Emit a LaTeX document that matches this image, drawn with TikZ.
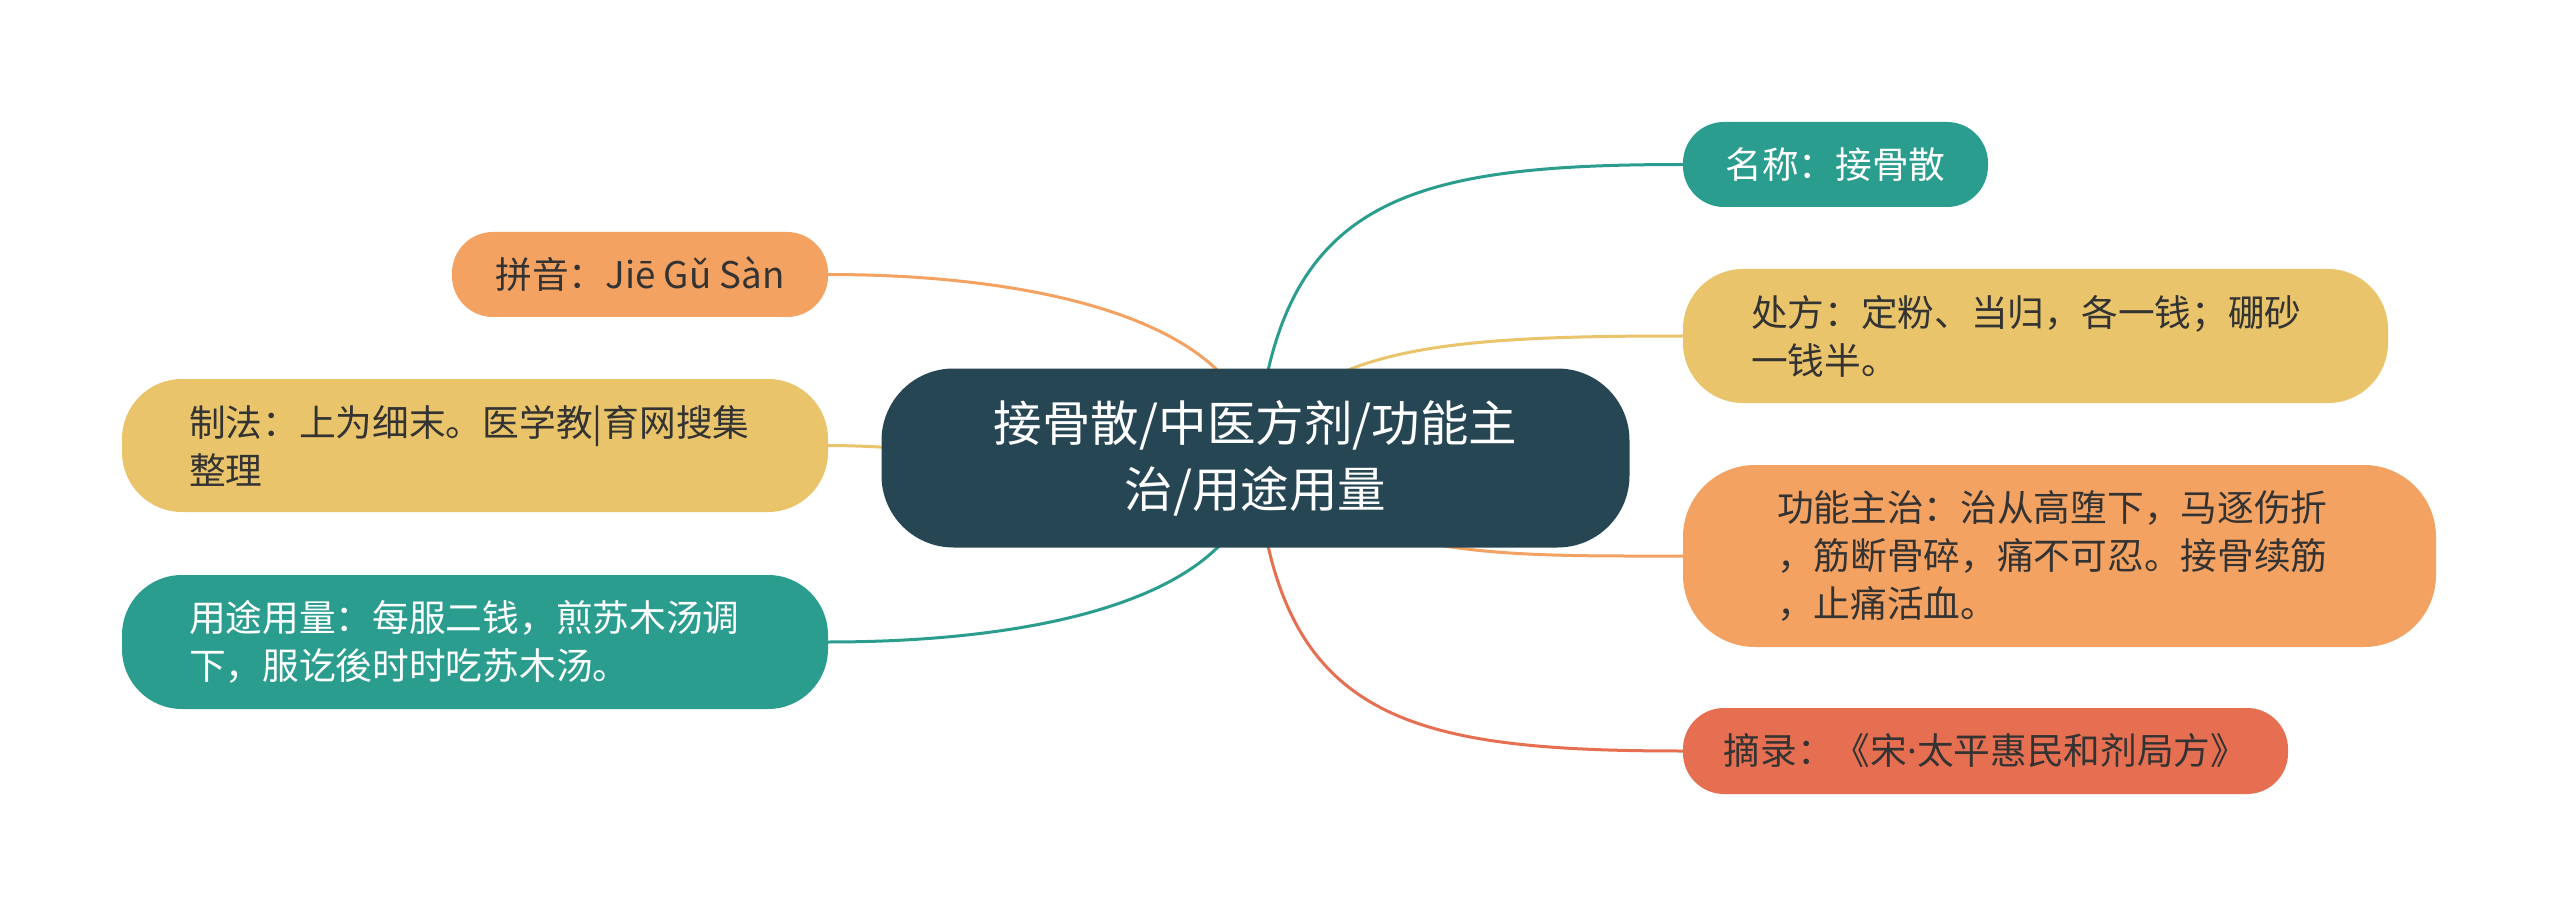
\documentclass[tikz,border=0pt]{standalone}
\usepackage{fontspec}
\setmainfont{Noto Sans CJK SC}
\newfontfamily\latinfont{Noto Sans}
\pgfdeclarelayer{bg}
\pgfsetlayers{bg,main}
\definecolor{cdark}{HTML}{264653}
\definecolor{cteal}{HTML}{2A9D8F}
\definecolor{cyellow}{HTML}{E9C46A}
\definecolor{corange}{HTML}{F4A261}
\definecolor{cred}{HTML}{E76F51}
\definecolor{ctext}{HTML}{333333}
\tikzset{
  box/.style={rectangle, inner ysep=0pt, outer sep=0pt,
    font=\fontsize{36.7}{48}\selectfont},
  onebox/.style={box, rounded corners=41pt, inner xsep=0pt, align=center},
  leftbox/.style={box, rounded corners=60pt, align=left},
  rootbox/.style={rectangle, rounded corners=72pt, fill=cdark, text=white,
    minimum width=748pt, minimum height=179pt, align=center, inner sep=0pt,
    font=\fontsize{48.5}{66}\selectfont},
  conn/.style={line width=3pt}
}
\begin{document}
\begin{tikzpicture}[x=1pt,y=-1pt]
\useasboundingbox (0,0) rectangle (2560,917);

\node[rootbox] (c) at (1255.5,458) {接骨散/中医方剂/功能主\\治/用途用量};

\node[onebox, fill=cteal, text=white, minimum width=305pt, minimum height=85pt]
  (n1) at (1835.5,164.5) {名称：接骨散};
\node[leftbox, fill=cyellow, text=ctext, inner xsep=68pt, text width=569pt, minimum height=134pt]
  (n2) at (2035.5,336) {处方：定粉、当归，各一钱；硼砂\\一钱半。};
\node[leftbox, rounded corners=72pt, fill=corange, text=ctext, inner xsep=94pt, text width=565pt, minimum height=182pt]
  (n3) at (2059.5,556) {功能主治：治从高堕下，马逐伤折\\，筋断骨碎，痛不可忍。接骨续筋\\，止痛活血。};
\node[onebox, fill=cred, text=ctext, minimum width=605pt, minimum height=86pt]
  (n4) at (1985.5,751) {摘录：《宋{\latinfont ·}太平惠民和剂局方》};

\node[onebox, fill=corange, text=ctext, minimum width=376pt, minimum height=85pt]
  (m1) at (640,274.5) {拼音：Jiē Gǔ Sàn};
\node[leftbox, fill=cyellow, text=ctext, inner xsep=67pt, text width=572pt, minimum height=133pt]
  (m2) at (475,445.5) {制法：上为细末。医学教|育网搜集\\整理};
\node[leftbox, fill=cteal, text=white, inner xsep=67pt, text width=572pt, minimum height=134pt]
  (m3) at (475,642) {用途用量：每服二钱，煎苏木汤调\\下，服讫後时时吃苏木汤。};

\begin{pgfonlayer}{bg}
\fill[white] (0,0) rectangle (2560,917);
\draw[conn, cteal] (c.center) .. controls (1275,200) and (1400,164.5) .. (n1.west);
\draw[conn, cyellow] (c.center) .. controls (1300,345) and (1450,336) .. (n2.west);
\draw[conn, corange] (c.center) .. controls (1360,560) and (1500,556) .. (n3.west);
\draw[conn, cred] (c.center) .. controls (1275,718) and (1400,751) .. (n4.west);
\draw[conn, corange] (c.center) .. controls (1258,330) and (1060,274.5) .. (m1.east);
\draw[conn, cyellow] (c.center) .. controls (1000,458) and (900,445.5) .. (m2.east);
\draw[conn, cteal] (c.center) .. controls (1258,590) and (1060,642) .. (m3.east);
\end{pgfonlayer}
\end{tikzpicture}
\end{document}
